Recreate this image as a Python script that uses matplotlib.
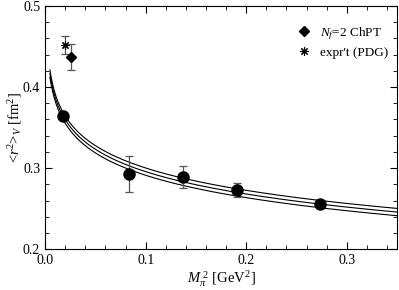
import numpy as np
import matplotlib
matplotlib.use("Agg")
import matplotlib.pyplot as plt
from matplotlib.ticker import MultipleLocator, FormatStrFormatter

plt.rcParams['font.family'] = ['Liberation Serif', 'DejaVu Serif']
plt.rcParams['mathtext.fontset'] = 'custom'
plt.rcParams['mathtext.rm'] = 'Liberation Serif'
plt.rcParams['mathtext.it'] = 'Liberation Serif:italic'

# lattice points
mpi2 = [0.018, 0.083, 0.137, 0.191, 0.273]
r2 = [0.364, 0.293, 0.289, 0.273, 0.256]
r2_err = [0.003, 0.022, 0.014, 0.009, 0.004]

# Nf=2 ChPT point
chpt_x = [0.026]
chpt_y = [0.437]
chpt_err = [0.016]

# experiment (PDG)
pdg_x = [0.0195]
pdg_y = [0.452]
pdg_err = [0.011]

# fit curve: r2 = c - k*ln(M^2), band +/- width
fit_c = 0.2039
fit_k = 0.03985
fit_band = 0.0045
fit_xmin, fit_xmax = 0.0048, 0.35

fig = plt.figure(figsize=(3.99, 2.90), dpi=100)
ax = fig.add_axes([0.113, 0.141, 0.882, 0.838])

xs = np.linspace(fit_xmin, fit_xmax, 400)
center = fit_c - fit_k * np.log(xs)
for off in (-fit_band, 0.0, fit_band):
    ax.plot(xs, center + off, color='black', lw=0.8)

eb = dict(ecolor='#555555', elinewidth=0.9, capsize=3, capthick=0.9)
ax.errorbar(mpi2, r2, yerr=r2_err, fmt='o', color='black', ms=8, **eb)
ax.errorbar(chpt_x, chpt_y, yerr=chpt_err, fmt='none', **eb)
ax.errorbar(pdg_x, pdg_y, yerr=pdg_err, fmt='none', **eb)
h_chpt, = ax.plot(chpt_x, chpt_y, ls='none', marker='D', color='black', ms=5.5)
h_pdg, = ax.plot(pdg_x, pdg_y, ls='none', marker=(8, 2, 0), color='black',
                 ms=6, mew=0.8)

ax.set_xlim(0, 0.35)
ax.set_ylim(0.2, 0.5)
ax.xaxis.set_major_locator(MultipleLocator(0.1))
ax.xaxis.set_minor_locator(MultipleLocator(0.02))
ax.yaxis.set_major_locator(MultipleLocator(0.1))
ax.yaxis.set_minor_locator(MultipleLocator(0.02))
ax.xaxis.set_major_formatter(FormatStrFormatter('%.1f'))
ax.yaxis.set_major_formatter(FormatStrFormatter('%.1f'))
ax.tick_params(which='both', direction='in', top=True, right=True, labelsize=10)
ax.tick_params(which='major', length=5)
ax.tick_params(which='minor', length=3)

ax.set_xlabel(r'$M_\pi^{\ 2}$ [GeV$^2$]', fontsize=10.5, labelpad=2)
ax.set_ylabel(r'<$r^2$>$_V$ [fm$^2$]', fontsize=10.5, labelpad=-1)

ax.legend([h_chpt, h_pdg], [r'$N_f$=2 ChPT', "expr't (PDG)"],
          loc='upper right', bbox_to_anchor=(1.0, 0.96), frameon=False,
          fontsize=9.5, handletextpad=0.4, borderaxespad=0.3,
          labelspacing=0.35, handlelength=1.5)

fig.savefig('out.png', dpi=100)
